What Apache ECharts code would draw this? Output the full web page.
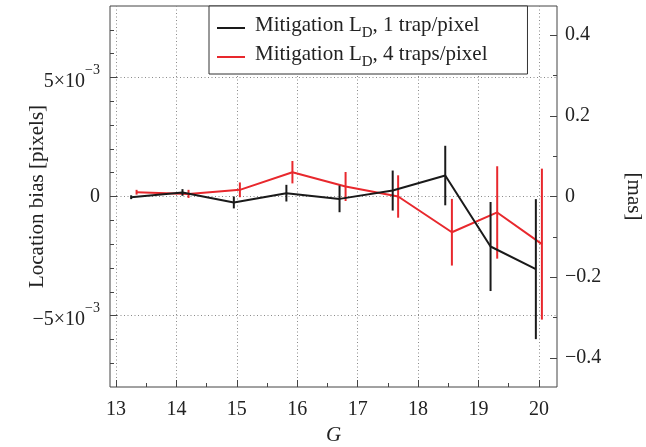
<!DOCTYPE html>
<html><head><meta charset="utf-8">
<script src="https://cdn.jsdelivr.net/npm/echarts@6/dist/echarts.min.js"></script>
<style>html,body{margin:0;padding:0;background:#fff}#c{width:646px;height:447px}</style>
</head><body><div id="c"></div>
<script>
// Data (location bias in units of 1e-3 pixels)
const seriesNames = ['Mitigation L_D, 1 trap/pixel', 'Mitigation L_D, 4 traps/pixel'];
const g1 = [13.25, 14.10, 14.95, 15.82, 16.70, 17.58, 18.45, 19.20, 19.95];
const bias1 = [-0.03, 0.17, -0.25, 0.14, -0.10, 0.25, 0.88, -2.10, -3.05];
const err1 = [0.08, 0.14, 0.25, 0.35, 0.56, 0.84, 1.25, 1.87, 2.94];
const g4 = [13.34, 14.20, 15.05, 15.92, 16.80, 17.67, 18.56, 19.31, 20.05];
const bias4 = [0.18, 0.11, 0.28, 1.02, 0.42, 0.00, -1.50, -0.67, -2.00];
const err4 = [0.10, 0.17, 0.31, 0.47, 0.61, 0.89, 1.40, 1.94, 3.17];

// Axes
const xMajorTicks = [13, 14, 15, 16, 17, 18, 19, 20];
const xMinorTicks = [13.5, 14.5, 15.5, 16.5, 17.5, 18.5, 19.5];
const leftMajorTicks = [-5, 0, 5];
const leftMinorTicks = [-7, -6, -4, -3, -2, -1, 1, 2, 3, 4, 6, 7];
const rightMajorTicks = [-0.4, -0.2, 0, 0.2, 0.4];
const rightMinorTicks = [-0.3, -0.1, 0.1, 0.3];
const xMin = 12.9, xMax = 20.3;
const leftMax = 8;            // 1e-3 pixels
const masPerPixel = 59.06;    // mas per pixel
const rightMax = leftMax * 1e-3 * masPerPixel;

const FONT = 'Liberation Serif';
const BLACK = '#1a1a1a', RED = '#e8282d';
const AXIS = '#444';

function pairs(g, v) { return g.map((x, i) => [x, v[i]]); }
function errs(g, v, e) { return g.map((x, i) => [x, v[i] - e[i], v[i] + e[i]]); }
function minus(s) { return String(s).replace('-', '\u2212'); }

function errRender(color) {
  return function (params, api) {
    const p1 = api.coord([api.value(0), api.value(1)]);
    const p2 = api.coord([api.value(0), api.value(2)]);
    return { type: 'line', shape: { x1: p1[0], y1: p1[1], x2: p2[0], y2: p2[1] },
             style: { stroke: color, lineWidth: 2 } };
  };
}

const chart = echarts.init(document.getElementById('c'), null, { renderer: 'canvas' });
const gridLine = { show: true, lineStyle: { color: '#8a8a8a', type: [1, 2.5], width: 1 } };
const noLine = { show: false, onZero: false };

chart.setOption({
  animation: false,
  backgroundColor: '#fff',
  grid: { left: 110, right: 89, top: 6, bottom: 60, show: true, borderColor: AXIS, borderWidth: 1,
          containLabel: false, outerBoundsMode: 'none' },
  legend: {
    left: 209, top: 6, orient: 'vertical',
    backgroundColor: '#fff', borderColor: '#333', borderWidth: 1, borderRadius: 0,
    padding: [9, 40, 4, 8], itemGap: 3,
    itemWidth: 28, itemHeight: 2, icon: 'rect',
    data: seriesNames,
    formatter: function (name) {
      const parts = name.split('L_D');
      return '{t|' + parts[0] + 'L}{d|D}{t|' + parts[1] + '}';
    },
    textStyle: {
      fontFamily: FONT, fontSize: 21, color: '#222', padding: [0, 0, 0, 5],
      rich: {
        t: { fontFamily: FONT, fontSize: 21, color: '#222', lineHeight: 22, verticalAlign: 'top' },
        d: { fontFamily: FONT, fontSize: 15, color: '#222', lineHeight: 26, verticalAlign: 'bottom' }
      }
    }
  },
  xAxis: [{
    type: 'value', min: xMin, max: xMax, position: 'bottom',
    axisLine: noLine,
    axisTick: { show: true, inside: true, length: 7, customValues: xMajorTicks, lineStyle: { color: AXIS } },
    axisLabel: { show: true, customValues: xMajorTicks, margin: 13, fontFamily: FONT, fontSize: 20, color: '#222' },
    splitLine: gridLine,
    name: 'G', nameLocation: 'middle', nameGap: 38, nameMoveOverlap: false,
    nameTextStyle: { fontFamily: FONT, fontSize: 21, fontStyle: 'italic', color: '#222' }
  }, {
    type: 'value', min: xMin, max: xMax, position: 'bottom',
    axisLine: noLine,
    axisTick: { show: true, inside: true, length: 4, customValues: xMinorTicks, lineStyle: { color: AXIS } },
    axisLabel: { show: false }, splitLine: { show: false }
  }],
  yAxis: [{
    type: 'value', min: -leftMax, max: leftMax, position: 'left',
    axisLine: noLine,
    axisTick: { show: true, inside: true, length: 7, customValues: leftMajorTicks, lineStyle: { color: AXIS } },
    axisLabel: {
      show: true, customValues: leftMajorTicks, margin: 10, color: '#222',
      formatter: function (v) {
        if (v === 0) return '{b|0}';
        return '{b|' + minus(v) + '\u00d710}{s|\u22123}';
      },
      rich: {
        b: { fontFamily: FONT, fontSize: 20, color: '#222', lineHeight: 20, verticalAlign: 'bottom' },
        s: { fontFamily: FONT, fontSize: 14, color: '#222', lineHeight: 28, verticalAlign: 'top' }
      }
    },
    splitLine: gridLine,
    name: 'Location bias [pixels]', nameLocation: 'middle', nameGap: 62, nameRotate: 90, nameMoveOverlap: false,
    nameTextStyle: { fontFamily: FONT, fontSize: 21, color: '#222' }
  }, {
    type: 'value', min: -leftMax, max: leftMax, position: 'left',
    axisLine: noLine,
    axisTick: { show: true, inside: true, length: 4, customValues: leftMinorTicks, lineStyle: { color: AXIS } },
    axisLabel: { show: false }, splitLine: { show: false }
  }, {
    type: 'value', min: -rightMax, max: rightMax, position: 'right',
    axisLine: noLine,
    axisTick: { show: true, inside: true, length: 7, customValues: rightMajorTicks, lineStyle: { color: AXIS } },
    axisLabel: { show: true, customValues: rightMajorTicks, margin: 8, fontFamily: FONT, fontSize: 20, color: '#222',
                 formatter: function (v) { return minus(v); } },
    splitLine: { show: false },
    name: '[mas]', nameLocation: 'middle', nameGap: 66, nameRotate: -90, nameMoveOverlap: false,
    nameTextStyle: { fontFamily: FONT, fontSize: 21, color: '#222' }
  }, {
    type: 'value', min: -rightMax, max: rightMax, position: 'right',
    axisLine: noLine,
    axisTick: { show: true, inside: true, length: 4, customValues: rightMinorTicks, lineStyle: { color: AXIS } },
    axisLabel: { show: false }, splitLine: { show: false }
  }],
  series: [{
    name: seriesNames[0], type: 'line', data: pairs(g1, bias1), symbol: 'none', z: 5,
    lineStyle: { color: BLACK, width: 2 }, itemStyle: { color: BLACK }
  }, {
    name: seriesNames[1], type: 'line', data: pairs(g4, bias4), symbol: 'none', z: 4,
    lineStyle: { color: RED, width: 2 }, itemStyle: { color: RED }
  }, {
    name: seriesNames[0] + ' err', type: 'custom', data: errs(g1, bias1, err1), z: 5,
    renderItem: errRender(BLACK), encode: { x: 0, y: [1, 2] }
  }, {
    name: seriesNames[1] + ' err', type: 'custom', data: errs(g4, bias4, err4), z: 4,
    renderItem: errRender(RED), encode: { x: 0, y: [1, 2] }
  }]
});
</script></body></html>
